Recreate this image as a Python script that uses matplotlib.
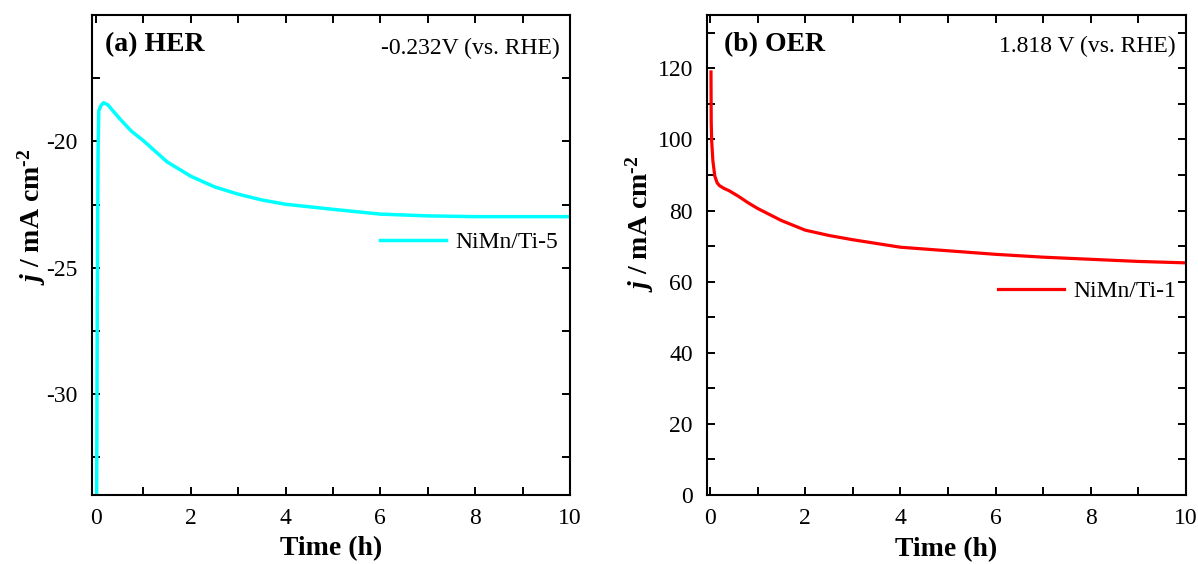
import numpy as np
import matplotlib
matplotlib.use("Agg")
import matplotlib.pyplot as plt
from matplotlib.ticker import MultipleLocator, FixedLocator

plt.rcParams["font.family"] = ["Liberation Serif", "DejaVu Serif"]
plt.rcParams["axes.unicode_minus"] = False
plt.rcParams["mathtext.fontset"] = "custom"
plt.rcParams["mathtext.it"] = "Liberation Serif:italic:bold"
plt.rcParams["mathtext.rm"] = "Liberation Serif:bold"

# (a) HER chronoamperometry, NiMn/Ti-5 at -0.232 V vs RHE
her_t = [0.015, 0.03, 0.045, 0.06, 0.1, 0.16, 0.25, 0.5, 0.75, 1.0, 1.5,
         2.0, 2.5, 3.0, 3.5, 4.0, 5.0, 6.0, 7.0, 8.0, 9.0, 10.0]
her_j = [-34.5, -26.0, -20.5, -18.8, -18.6, -18.47, -18.55, -19.1, -19.6,
         -19.97, -20.81, -21.38, -21.8, -22.09, -22.32, -22.49, -22.69,
         -22.88, -22.95, -22.98, -22.98, -22.98]
her_yticks = [-30, -25, -20]

# (b) OER chronoamperometry, NiMn/Ti-1 at 1.818 V vs RHE
oer_t = [0.02, 0.025, 0.035, 0.06, 0.1, 0.15, 0.2, 0.3, 0.4, 0.6, 0.8, 1.0,
         1.5, 2.0, 2.5, 3.0, 4.0, 5.0, 6.0, 7.0, 8.0, 9.0, 10.0]
oer_j = [119.0, 105.0, 99.5, 94.0, 89.7, 87.8, 87.0, 86.2, 85.6, 84.0,
         82.2, 80.6, 77.2, 74.5, 73.0, 71.8, 69.7, 68.7, 67.7, 66.9, 66.3,
         65.7, 65.3]
oer_yticks = [0, 20, 40, 60, 80, 100, 120]


def style_axes(ax):
    ax.tick_params(which="both", direction="in", top=True, right=True,
                   length=6, width=1.4, labelsize=17)
    ax.tick_params(axis="x", pad=9)
    ax.tick_params(axis="y", pad=10)
    for s in ax.spines.values():
        s.set_linewidth(1.5)
    ax.xaxis.set_major_locator(MultipleLocator(2))
    ax.xaxis.set_minor_locator(MultipleLocator(1))


fig = plt.figure(figsize=(11.98, 5.64), dpi=100)
ax1 = fig.add_axes([0.0765, 0.1223, 0.3993, 0.851])
ax2 = fig.add_axes([0.5899, 0.1223, 0.4001, 0.851])

ylab = r"$j$ / mA cm$^{\text{-2}}$"

# HER panel
ax1.plot(her_t, her_j, color="#00FFFF", lw=2.5, label="NiMn/Ti-5")
ax1.set_xlim(-0.09, 10)
ax1.set_ylim(-34, -15)
style_axes(ax1)
ax1.yaxis.set_major_locator(FixedLocator(her_yticks))
ax1.yaxis.set_minor_locator(MultipleLocator(2.5))
ax1.set_xlabel("Time (h)", fontsize=20, fontweight="bold")
ax1.set_ylabel(ylab, fontsize=20, fontweight="bold")
ax1.xaxis.set_label_coords(0.5, -0.085)
ax1.yaxis.set_label_coords(-0.092, 0.58)
ax1.text(0.028, 0.938, "(a) HER", transform=ax1.transAxes, fontsize=20,
         fontweight="bold", ha="left", va="center")
ax1.text(0.979, 0.931, "-0.232V (vs. RHE)", transform=ax1.transAxes,
         fontsize=17, ha="right", va="center")
ax1.legend(loc="center right", bbox_to_anchor=(0.975, 0.527), frameon=False,
           fontsize=17, handlelength=2.8, handletextpad=0.4, borderpad=0,
           borderaxespad=0)

# OER panel
ax2.plot(oer_t, oer_j, color="#FF0000", lw=2.3, label="NiMn/Ti-1")
ax2.set_xlim(-0.07, 10)
ax2.set_ylim(0, 135)
style_axes(ax2)
ax2.yaxis.set_major_locator(FixedLocator(oer_yticks))
ax2.yaxis.set_minor_locator(MultipleLocator(10))
ax2.set_xlabel("Time (h)", fontsize=20, fontweight="bold")
ax2.set_ylabel(ylab, fontsize=20, fontweight="bold")
ax2.xaxis.set_label_coords(0.5, -0.088)
ax2.yaxis.set_label_coords(-0.105, 0.565)
ax2.text(0.036, 0.938, "(b) OER", transform=ax2.transAxes, fontsize=20,
         fontweight="bold", ha="left", va="center")
ax2.text(0.979, 0.934, "1.818 V (vs. RHE)", transform=ax2.transAxes,
         fontsize=17, ha="right", va="center")
ax2.legend(loc="center right", bbox_to_anchor=(0.98, 0.425), frameon=False,
           fontsize=17, handlelength=2.8, handletextpad=0.4, borderpad=0,
           borderaxespad=0)

fig.savefig("out.png", dpi=100)
